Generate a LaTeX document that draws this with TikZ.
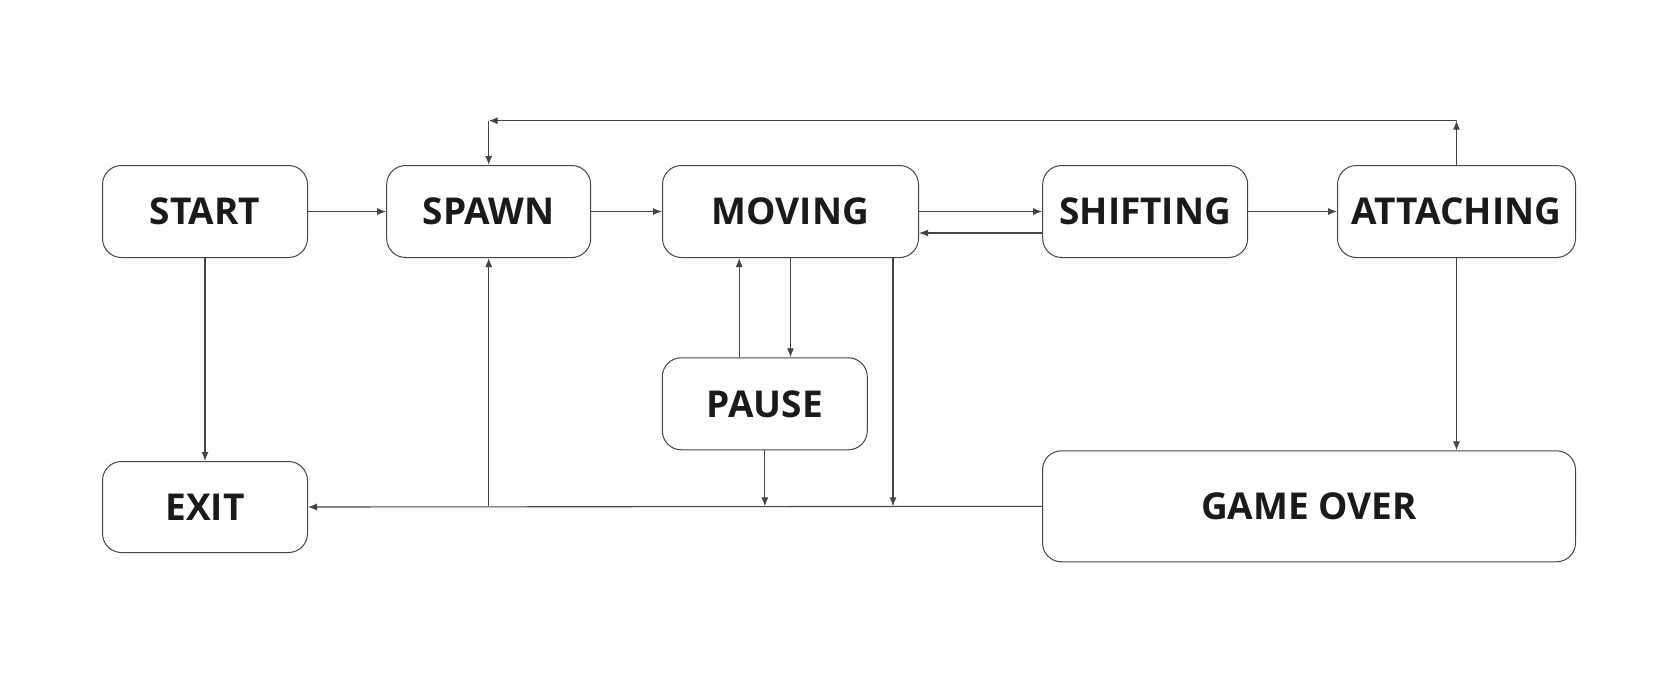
\documentclass[tikz,border=0pt]{standalone}
\usepackage{fontspec}
\setmainfont{Open Sans}
\usetikzlibrary{arrows.meta,calc}
\definecolor{ln}{HTML}{444444}
\definecolor{tx}{HTML}{1A1A1A}
\begin{document}
\begin{tikzpicture}[x=1pt,y=-1pt,
  state/.style={draw=ln,line width=1pt,rounded corners=19pt,minimum height=92pt,
    inner sep=0pt,font=\fontsize{37}{40}\selectfont\bfseries,text=tx},
  conn/.style={draw=ln,line width=1.1pt},
  arr/.style={conn,-{Latex[length=9pt,width=7pt]}}]
\useasboundingbox (0,0) rectangle (1675,683);
\node[state,minimum width=205pt] (start) at (205,211.5) {START};
\node[state,minimum width=204pt] (spawn) at (488.7,211.5) {SPAWN};
\node[state,minimum width=256pt] (moving) at (790.5,211.5) {MOVING};
\node[state,minimum width=205pt] (shift) at (1145.2,211.5) {SHIFTING};
\node[state,minimum width=238pt] (attach) at (1456.5,211.5) {ATTACHING};
\node[state,minimum width=205pt] (pause) at (764.8,403.8) {PAUSE};
\node[state,minimum width=205pt,minimum height=91pt] (exit) at (205,507) {EXIT};
\node[state,minimum width=533pt,minimum height=111pt] (over) at (1309,506.3) {GAME OVER};
\coordinate (topR) at (1456.5,120.7);
\coordinate (topL) at (488.7,120.7);
\coordinate (botS) at (488.7,506.3);
\coordinate (botP) at (764.8,506.3);
\coordinate (botM) at (893,506.3);
% top row
\draw[arr] (start.east) -- (spawn.west);
\draw[arr] (spawn.east) -- (moving.west);
\draw[arr] (moving.east) -- (shift.west);
\draw[arr] (shift.west |- 0,233) -- (moving.east |- 0,233);
\draw[arr] (shift.east) -- (attach.west);
% loop back to spawn
\draw[arr] (attach.north) -- (topR);
\draw[arr] (topR) -- (topL);
\draw[arr] (topL) -- (spawn.north);
% down to game over / exit
\draw[arr] (attach.south) -- (attach.south |- over.north);
\draw[arr] (start.south) -- (exit.north);
\draw[arr] (over.west) -- (exit.east);
\draw[arr] (botS) -- (spawn.south);
\draw[arr] (pause.south) -- (botP);
\draw[arr] (moving.south -| botM) -- (botM);
% pause
\draw[arr] (moving.south) -- (pause.north -| moving.south);
\draw[arr] (pause.north -| 739.2,0) -- (moving.south -| 739.2,0);
\end{tikzpicture}
\end{document}
